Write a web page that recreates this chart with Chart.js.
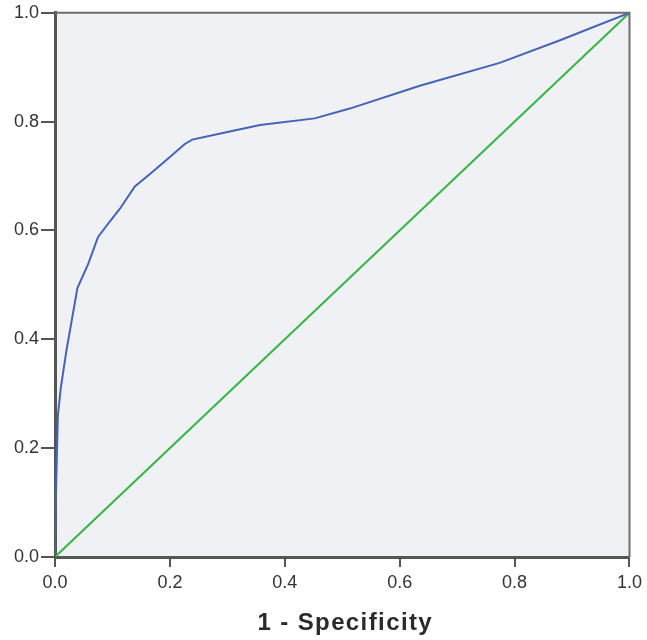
<!DOCTYPE html>
<html>
<head>
<meta charset="utf-8">
<script src="https://cdn.jsdelivr.net/npm/chart.js@4.4.0/dist/chart.umd.min.js"></script>
<style>
  html, body { margin: 0; padding: 0; background: #fff; }
  #wrap { width: 647px; height: 640px; }
</style>
</head>
<body>
<div id="wrap"><canvas id="roc" width="647" height="640"></canvas></div>
<script>
// ROC curve (1 - specificity, sensitivity)
const fpr = [0, 0.002, 0.005, 0.01, 0.02, 0.03, 0.039, 0.058, 0.075, 0.095, 0.113, 0.139, 0.171, 0.2, 0.226, 0.239, 0.3, 0.357, 0.452, 0.513, 0.635, 0.774, 0.878, 1.0];
const tpr = [0, 0.13, 0.26, 0.31, 0.38, 0.44, 0.494, 0.539, 0.588, 0.616, 0.64, 0.681, 0.709, 0.735, 0.759, 0.767, 0.781, 0.794, 0.806, 0.824, 0.866, 0.908, 0.949, 1.0];
const refLine = [0, 1];
const tickValues = [0, 0.2, 0.4, 0.6, 0.8, 1.0];
const xTitle = "1 - Specificity";

const rocPoints = fpr.map((v, i) => ({ x: v, y: tpr[i] }));
const refPoints = refLine.map(v => ({ x: v, y: v }));

const bgPlugin = {
  id: "plotBg",
  beforeDraw(chart) {
    const { ctx, chartArea: a } = chart;
    ctx.save();
    ctx.fillStyle = "#eff1f4";
    ctx.fillRect(a.left, a.top, a.right - a.left, a.bottom - a.top);
    ctx.restore();
  },
  afterDatasetsDraw(chart) {
    const { ctx, chartArea: a } = chart;
    ctx.save();
    ctx.strokeStyle = "#6d6d6d";
    ctx.lineWidth = 2;
    ctx.beginPath();
    ctx.moveTo(a.left, a.top);
    ctx.lineTo(a.right, a.top);
    ctx.lineTo(a.right, a.bottom);
    ctx.stroke();
    ctx.restore();
  },
  afterDraw(chart) {
    // axis title, drawn by hand to get the wider spacing
    const { ctx, chartArea: a } = chart;
    ctx.save();
    ctx.font = "bold 24px 'Liberation Sans', Arial, sans-serif";
    ctx.letterSpacing = "1.4px";
    ctx.fillStyle = "#2a2a2a";
    ctx.textAlign = "center";
    ctx.textBaseline = "middle";
    ctx.fillText(xTitle, (a.left + a.right) / 2 + 3, 623);
    ctx.restore();
  }
};

const tickFont = { family: "'Liberation Sans', Arial, sans-serif", size: 18 };

new Chart(document.getElementById("roc"), {
  type: "scatter",
  data: {
    datasets: [
      {
        data: rocPoints,
        showLine: true,
        borderColor: "#4563b8",
        borderWidth: 2,
        pointRadius: 0,
        tension: 0
      },
      {
        data: refPoints,
        showLine: true,
        borderColor: "#3bb54a",
        borderWidth: 2,
        pointRadius: 0
      }
    ]
  },
  plugins: [bgPlugin],
  options: {
    responsive: false,
    animation: false,
    layout: { padding: { top: 12, right: 17, left: 0, bottom: 0 } },
    plugins: { legend: { display: false }, tooltip: { enabled: false } },
    scales: {
      x: {
        type: "linear",
        min: 0,
        max: 1,
        afterBuildTicks: (s) => { s.ticks = tickValues.map(v => ({ value: v })); },
        afterFit: (s) => { s.height = 83; },
        ticks: {
          color: "#333",
          font: tickFont,
          padding: 5,
          maxRotation: 0,
          callback: (v) => v.toFixed(1)
        },
        grid: { drawOnChartArea: false, tickLength: 10, color: "#555", lineWidth: 2 },
        border: { color: "#555", width: 3 }
      },
      y: {
        type: "linear",
        min: 0,
        max: 1,
        afterBuildTicks: (s) => { s.ticks = tickValues.map(v => ({ value: v })); },
        afterFit: (s) => { s.width = 55; },
        ticks: {
          color: "#333",
          font: tickFont,
          padding: 2,
          callback: (v) => v.toFixed(1)
        },
        grid: { drawOnChartArea: false, tickLength: 14, color: "#555", lineWidth: 2 },
        border: { color: "#555", width: 3 }
      }
    }
  }
});
</script>
</body>
</html>
